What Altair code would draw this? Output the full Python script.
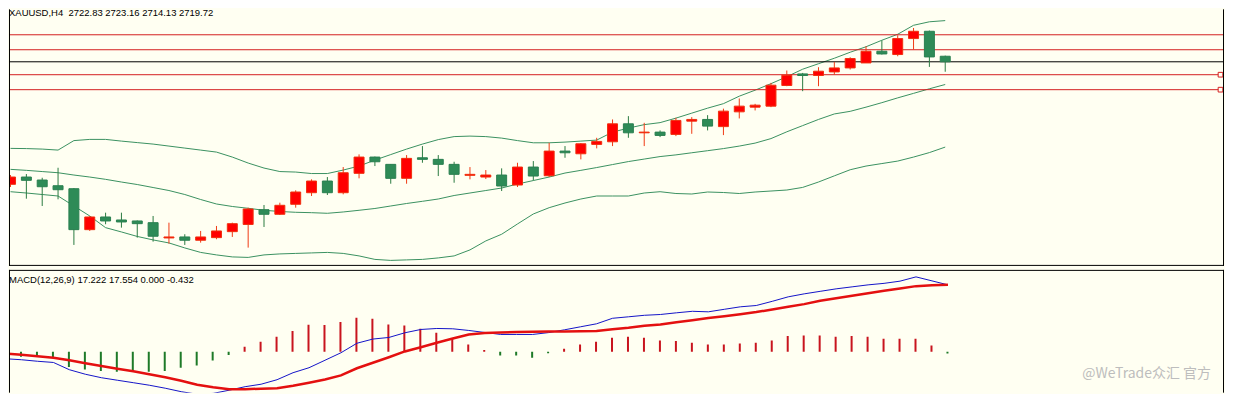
import altair as alt
import pandas as pd

# ---------------- data ----------------
bar_index = list(range(60))
opens = [2650.98, 2655.07, 2653.39, 2650.20, 2648.52, 2625.56, 2632.67, 2630.99, 2630.43, 2629.48,
         2620.91, 2621.47, 2619.62, 2621.08, 2624.44, 2628.47, 2636.76, 2634.18, 2639.78, 2646.28,
         2652.83, 2646.28, 2657.14, 2666.27, 2662.18, 2654.34, 2665.88, 2664.98, 2662.18, 2656.02,
         2655.07, 2656.19, 2650.59, 2660.67, 2655.80, 2669.63, 2668.12, 2673.38, 2674.84, 2684.92,
         2679.88, 2680.27, 2678.98, 2686.43, 2687.38, 2683.35, 2691.64, 2694.27, 2694.83, 2706.42,
         2712.92, 2712.02, 2714.04, 2716.28, 2719.08, 2725.63, 2723.78, 2732.74, 2736.83, 2722.83]
highs = [2656.19, 2656.75, 2654.68, 2660.28, 2648.91, 2633.23, 2635.08, 2635.08, 2630.71, 2633.23,
         2629.48, 2622.98, 2624.83, 2627.63, 2629.48, 2637.88, 2639.39, 2640.68, 2647.62, 2653.78,
         2655.07, 2660.67, 2667.78, 2666.55, 2662.35, 2667.39, 2672.43, 2667.39, 2663.64, 2660.67,
         2658.99, 2659.94, 2663.08, 2664.03, 2674.28, 2672.43, 2674.11, 2677.08, 2687.38, 2689.23,
         2685.48, 2681.22, 2688.28, 2688.67, 2689.79, 2693.43, 2699.14, 2696.12, 2707.88, 2714.82,
         2713.48, 2716.67, 2719.64, 2722.27, 2728.43, 2731.62, 2734.59, 2738.68, 2737.22, 2723.16]
lows = [2649.47, 2642.92, 2638.83, 2642.58, 2616.99, 2624.83, 2628.58, 2626.68, 2621.08, 2618.84,
        2617.72, 2616.99, 2618.28, 2620.18, 2621.47, 2615.48, 2627.07, 2633.79, 2637.88, 2644.43,
        2644.99, 2645.38, 2654.34, 2661.23, 2651.32, 2651.32, 2663.08, 2655.63, 2651.88, 2653.78,
        2653.95, 2647.23, 2649.47, 2653.22, 2655.07, 2665.88, 2664.98, 2671.14, 2672.43, 2677.08,
        2672.43, 2677.47, 2678.03, 2679.32, 2681.22, 2678.59, 2687.94, 2692.42, 2694.27, 2706.03,
        2703.23, 2706.03, 2712.58, 2715.38, 2719.08, 2723.78, 2722.83, 2726.58, 2716.84, 2714.13]
closes = [2655.07, 2653.22, 2649.64, 2647.96, 2625.56, 2632.67, 2630.43, 2629.87, 2628.92, 2621.86,
          2621.47, 2619.62, 2621.47, 2624.83, 2628.92, 2637.15, 2634.18, 2639.22, 2646.67, 2652.83,
          2646.28, 2657.48, 2666.27, 2663.64, 2654.34, 2665.54, 2664.98, 2662.18, 2656.58, 2656.58,
          2656.19, 2650.03, 2660.67, 2655.63, 2669.63, 2668.68, 2673.72, 2675.06, 2684.92, 2679.88,
          2680.27, 2678.42, 2686.82, 2687.38, 2683.63, 2692.03, 2694.83, 2695.39, 2706.59, 2712.19,
          2712.02, 2714.43, 2716.28, 2721.54, 2725.63, 2724.12, 2732.74, 2736.83, 2722.44, 2719.72]

bb_upper = [2671.14, 2671.03, 2670.75, 2670.19, 2675.51, 2676.18, 2676.18, 2675.23, 2674.39, 2673.55,
            2672.43, 2671.31, 2670.19, 2669.07, 2666.27, 2662.91, 2660.11, 2658.15, 2657.87, 2657.03,
            2657.03, 2658.99, 2661.23, 2664.59, 2667.67, 2670.75, 2673.55, 2676.07, 2677.75, 2678.03,
            2677.75, 2676.91, 2675.51, 2674.28, 2674.28, 2674.67, 2675.23, 2675.79, 2680.27, 2682.51,
            2684.47, 2685.59, 2688.11, 2690.91, 2693.71, 2696.23, 2700.43, 2703.79, 2707.43, 2711.35,
            2715.55, 2718.63, 2721.71, 2725.07, 2728.15, 2731.79, 2735.15, 2740.19, 2742.15, 2742.82]
bb_mid = [2659.38, 2658.82, 2658.15, 2657.48, 2656.19, 2655.07, 2653.78, 2652.27, 2650.87, 2649.19,
          2647.51, 2645.27, 2642.47, 2639.95, 2638.55, 2637.54, 2636.42, 2635.75, 2635.30, 2635.08,
          2634.74, 2635.47, 2636.42, 2637.43, 2638.83, 2640.23, 2641.46, 2642.75, 2644.71, 2646.11,
          2647.51, 2648.91, 2651.15, 2653.11, 2655.07, 2657.31, 2658.82, 2660.39, 2662.07, 2663.75,
          2665.15, 2666.55, 2667.50, 2668.68, 2669.85, 2671.03, 2672.43, 2674.11, 2676.63, 2680.44,
          2683.91, 2687.38, 2690.46, 2691.92, 2694.27, 2696.79, 2699.48, 2702.00, 2704.57, 2706.98]
bb_lower = [2646.84, 2646.11, 2645.27, 2644.43, 2638.83, 2633.23, 2626.68, 2624.27, 2621.75, 2619.79,
            2618.11, 2615.31, 2612.79, 2611.39, 2610.27, 2609.99, 2611.39, 2611.95, 2612.23, 2612.51,
            2612.79, 2612.23, 2610.83, 2608.87, 2608.31, 2608.59, 2608.87, 2609.71, 2610.83, 2614.19,
            2619.23, 2622.98, 2628.75, 2634.35, 2637.88, 2640.51, 2642.75, 2644.43, 2644.43, 2644.43,
            2646.11, 2646.84, 2645.83, 2645.55, 2646.67, 2646.39, 2645.83, 2646.67, 2647.23, 2647.79,
            2649.25, 2652.27, 2655.74, 2659.16, 2661.23, 2662.63, 2664.03, 2666.27, 2668.79, 2671.87]

macd_dif = [-1.75, -2.0, -2.38, -2.68, -4.5, -5.63, -6.5, -7.13, -7.75, -8.38,
            -9.13, -10.0, -10.63, -10.43, -9.63, -8.75, -8.13, -7.0, -5.25, -4.0,
            -2.13, -0.25, 2.13, 3.18, 3.58, 4.75, 5.58, 5.83, 5.75, 5.33,
            4.83, 4.33, 4.33, 4.33, 4.8, 5.5, 6.25, 7.0, 8.38, 8.75,
            9.13, 9.33, 9.75, 10.13, 10.0, 10.63, 11.25, 11.58, 12.63, 13.75,
            14.5, 15.13, 15.75, 16.25, 16.75, 17.13, 17.68, 18.75, 17.75, 16.75]
macd_dea = [-0.43, -0.75, -1.13, -1.5, -2.13, -2.88, -3.58, -4.25, -4.88, -5.63,
            -6.38, -7.25, -8.25, -8.88, -9.38, -9.38, -9.25, -9.13, -8.5, -7.75,
            -6.93, -5.93, -4.13, -2.75, -1.38, 0.08, 1.13, 2.25, 3.33, 4.33,
            4.68, 4.83, 4.93, 5.0, 5.05, 5.08, 5.13, 5.18, 5.63, 6.0,
            6.5, 6.83, 7.38, 7.88, 8.43, 8.88, 9.38, 9.93, 10.58, 11.25,
            11.93, 12.75, 13.38, 14.0, 14.63, 15.25, 15.83, 16.43, 16.63, 16.75]
macd_hist = [-1.13, -1.25, -1.25, -1.5, -3.83, -4.43, -4.83, -5.0, -4.83, -5.0,
             -4.83, -4.0, -3.43, -2.18, -0.83, 1.25, 2.5, 3.75, 5.18, 6.75,
             6.68, 7.43, 8.5, 8.25, 6.83, 6.58, 5.75, 4.75, 3.25, 1.83,
             0.43, -0.93, -0.93, -1.5, -0.38, 0.75, 1.83, 2.5, 3.5, 3.75,
             3.5, 2.83, 2.68, 2.25, 1.83, 1.83, 2.08, 2.25, 2.83, 3.93,
             4.08, 4.08, 3.75, 3.93, 3.75, 3.25, 3.25, 3.25, 1.58, -0.43]

red_levels = [2734.87, 2726.47, 2712.47, 2704.07]
handle_levels = [2712.47, 2704.07]
last_close = 2719.72

header_text = "XAUUSD,H4\u00a0 2722.83 2723.16 2714.13 2719.72"
macd_text = "MACD(12,26,9) 17.222 17.554 0.000 -0.432"
watermark_text = "@WeTrade众汇 官方"

# ---------------- tables ----------------
df = pd.DataFrame({
    "i": bar_index, "open": opens, "high": highs, "low": lows, "close": closes,
    "up": bb_upper, "mid": bb_mid, "lo": bb_lower,
    "dif": macd_dif, "dea": macd_dea, "hist": macd_hist,
})
df["dir"] = ["up" if c >= o else "down" for o, c in zip(opens, closes)]
df["hdir"] = ["pos" if h >= 0 else "neg" for h in macd_hist]

W = 1217
H1 = 257
H2 = 123
BG = "#FFFFF2"
RED_LINE = "#D42020"
BAND = "#3A9160"

xs = alt.Scale(domain=[0.21875, 76.28125], nice=False, zero=False)
ys = alt.Scale(domain=[2605.23, 2749.15], nice=False, zero=False)
ym = alt.Scale(domain=[-10.25, 20.5], nice=False, zero=False)
X = alt.X("i:Q", scale=xs, axis=None)

dummy = pd.DataFrame({"d": [0]})


def vline(xv, y1, y2):
    return alt.Chart(dummy).mark_rule(color="black", strokeWidth=1).encode(
        x=alt.value(xv), y=alt.value(y1), y2=alt.value(y2))


def hline(yv, x1, x2):
    return alt.Chart(dummy).mark_rule(color="black", strokeWidth=1).encode(
        y=alt.value(yv), x=alt.value(x1), x2=alt.value(x2))


base = alt.Chart(df).encode(x=X)

bands = [
    base.mark_line(color=BAND, strokeWidth=1, clip=True).encode(y=alt.Y(f"{f}:Q", scale=ys, axis=None))
    for f in ["up", "mid", "lo"]
]

wicks = base.mark_rule(strokeWidth=1, clip=True).encode(
    y=alt.Y("low:Q", scale=ys, axis=None), y2="high:Q",
    color=alt.Color("dir:N", scale=alt.Scale(domain=["up", "down"], range=["#F03A14", "#2A7A40"]), legend=None),
)
bodies = base.mark_bar(size=10, strokeWidth=1, clip=True).encode(
    y=alt.Y("open:Q", scale=ys, axis=None), y2="close:Q",
    fill=alt.Fill("dir:N", scale=alt.Scale(domain=["up", "down"], range=["#FF0000", "#2E8B57"]), legend=None),
    stroke=alt.Stroke("dir:N", scale=alt.Scale(domain=["up", "down"], range=["#F0300F", "#2A8050"]), legend=None),
)

levels = alt.Chart(pd.DataFrame({"level": red_levels})).mark_rule(color=RED_LINE, strokeWidth=1).encode(
    y=alt.Y("level:Q", scale=ys, axis=None))
bid = alt.Chart(pd.DataFrame({"level": [last_close]})).mark_rule(color="black", strokeWidth=1).encode(
    y=alt.Y("level:Q", scale=ys, axis=None))
handles = alt.Chart(pd.DataFrame({"level": handle_levels})).mark_point(
    shape="square", filled=True, fill=BG, stroke=RED_LINE, strokeWidth=1, size=22, opacity=1).encode(
    x=alt.value(W - 3.5), y=alt.Y("level:Q", scale=ys, axis=None))

header = alt.Chart(pd.DataFrame({"t": [header_text]})).mark_text(
    align="left", baseline="alphabetic", fontSize=9.5, font="Liberation Sans", color="black", clip=True
).encode(x=alt.value(0), y=alt.value(6.3), text="t:N")

main = alt.layer(
    *bands, levels, bid, wicks, bodies, handles, header,
    vline(0.5, 0, H1), vline(W - 0.5, 0, H1), hline(H1 - 0.5, 0, W),
).properties(width=W, height=H1)

# ---------------- MACD panel ----------------
hist_bars = base.mark_rule(strokeWidth=2, xOffset=-0.5, clip=True).encode(
    y=alt.Y("hist:Q", scale=ym, axis=None), y2=alt.datum(0),
    color=alt.Color("hdir:N", scale=alt.Scale(domain=["pos", "neg"], range=["#C8141E", "#1E7A28"]), legend=None),
)
dif_line = base.mark_line(color="#1414C8", strokeWidth=1, clip=True).encode(
    y=alt.Y("dif:Q", scale=ym, axis=None))
dea_line = base.mark_line(color="#E41010", strokeWidth=2.5, clip=True).encode(
    y=alt.Y("dea:Q", scale=ym, axis=None))

macd_label = alt.Chart(pd.DataFrame({"t": [macd_text]})).mark_text(
    align="left", baseline="alphabetic", fontSize=9.5, font="Liberation Sans", color="black"
).encode(x=alt.value(0), y=alt.value(13), text="t:N")
watermark = alt.Chart(pd.DataFrame({"t": [watermark_text]})).mark_text(
    align="left", baseline="alphabetic", fontSize=14, font="Noto Sans CJK SC", color="#BDBDBD"
).encode(x=alt.value(1075), y=alt.value(108), text="t:N")

macd = alt.layer(
    hist_bars, dif_line, dea_line, macd_label, watermark,
    vline(0.5, 0, H2), vline(W - 0.5, 0, H2), hline(0.5, 0, W),
).properties(width=W, height=H2)

chart = alt.vconcat(main, macd, spacing=2).resolve_scale(
    x="independent", y="independent", color="independent", fill="independent", stroke="independent"
).properties(padding=0, background=BG).configure_view(stroke=None)

chart.save("out.html", embed_options={"renderer": "svg", "actions": False})
